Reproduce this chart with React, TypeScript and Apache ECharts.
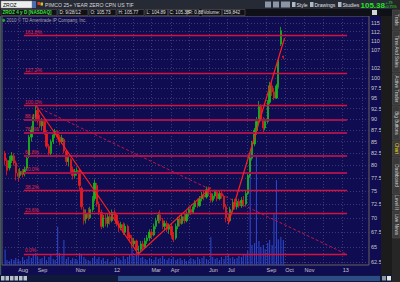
import React, { useEffect, useRef } from 'react';
import * as echarts from 'echarts';

// ---------- data ----------
const monthNames = ['Jan', 'Feb', 'Mar', 'Apr', 'May', 'Jun', 'Jul', 'Aug', 'Sep', 'Oct', 'Nov', 'Dec'];
const weekCount = 64; // two sessions per week shown, from the week of 2011-07-11

// [open, close, low, high]
const ohlc: number[][] = [
  [82.5, 81.0, 80.0, 83.0], [81.0, 79.0, 78.0, 81.5],
  [79.5, 81.0, 79.0, 82.0], [81.0, 82.0, 80.5, 82.8],
  [82.0, 80.5, 80.0, 82.5], [80.5, 78.5, 77.0, 81.0],
  [78.5, 77.8, 76.8, 79.2], [78.0, 78.8, 77.5, 79.5],
  [78.8, 78.2, 77.6, 79.3], [78.3, 79.2, 77.8, 79.8],
  [79.5, 81.5, 79.0, 82.0], [82.0, 86.0, 81.5, 86.5],
  [86.0, 87.5, 85.0, 88.5], [87.5, 90.5, 87.0, 91.2],
  [90.5, 92.0, 89.5, 93.21], [92.0, 90.0, 89.0, 92.5],
  [90.0, 88.5, 88.0, 91.0], [88.5, 89.5, 87.5, 90.3],
  [89.5, 87.0, 86.5, 90.0], [87.0, 84.0, 83.5, 87.5],
  [84.0, 82.5, 81.8, 84.5], [82.5, 85.0, 82.0, 85.5],
  [85.0, 86.5, 84.5, 87.0], [86.5, 87.3, 85.8, 87.8],
  [87.2, 86.0, 85.5, 87.5], [86.0, 85.0, 84.2, 86.5],
  [85.0, 85.8, 84.5, 86.5], [85.5, 83.0, 82.5, 85.8],
  [83.0, 80.8, 80.0, 83.2], [80.8, 81.5, 79.8, 82.0],
  [81.2, 79.2, 78.5, 81.5], [79.2, 78.0, 77.2, 79.8],
  [78.0, 78.8, 77.5, 79.3], [78.8, 79.0, 78.0, 79.6],
  [79.0, 76.0, 75.2, 79.3], [75.5, 72.0, 71.5, 75.8],
  [71.5, 69.5, 68.8, 72.0], [69.8, 70.8, 69.0, 71.5],
  [70.8, 70.0, 69.5, 71.8], [70.0, 71.5, 69.8, 72.0],
  [71.5, 73.5, 71.0, 74.0], [73.5, 76.5, 73.0, 77.2],
  [76.0, 72.5, 72.0, 76.5], [72.5, 71.0, 70.5, 73.0],
  [71.0, 68.5, 68.0, 71.5], [68.5, 70.0, 68.2, 70.5],
  [70.0, 69.0, 68.5, 70.8], [69.0, 70.2, 68.3, 70.8],
  [70.2, 69.5, 68.8, 71.0], [69.5, 71.0, 69.2, 71.5],
  [71.0, 70.5, 69.8, 71.5], [70.5, 69.0, 68.5, 70.8],
  [69.0, 68.2, 67.5, 69.5], [68.2, 68.8, 67.8, 69.3],
  [68.8, 67.5, 67.0, 69.2], [67.5, 68.5, 67.0, 69.0],
  [68.5, 67.0, 66.5, 68.8], [67.0, 66.5, 65.8, 67.5],
  [66.5, 65.5, 64.8, 67.0], [65.5, 66.0, 65.0, 66.5],
  [66.0, 64.5, 64.0, 66.2], [64.5, 64.6, 63.84, 65.2],
  [64.6, 65.5, 64.2, 66.0], [65.5, 65.0, 64.5, 66.0],
  [65.0, 66.0, 64.8, 66.5], [66.0, 66.5, 65.5, 67.0],
  [66.5, 67.5, 66.0, 68.0], [67.5, 67.0, 66.3, 68.0],
  [67.0, 68.5, 66.8, 69.0], [68.5, 69.5, 68.0, 70.0],
  [69.5, 70.5, 69.0, 71.0], [70.5, 69.5, 69.0, 71.4],
  [69.5, 68.5, 68.0, 70.0], [68.5, 69.0, 67.8, 69.5],
  [69.0, 68.0, 67.5, 69.5], [68.0, 68.5, 67.2, 69.0],
  [68.5, 67.0, 66.5, 69.0], [67.0, 66.2, 65.8, 67.5],
  [66.5, 68.5, 66.2, 69.0], [68.5, 69.8, 68.0, 70.2],
  [69.8, 69.0, 68.5, 70.5], [69.0, 70.2, 68.8, 70.8],
  [70.2, 69.5, 69.0, 70.8], [69.5, 70.8, 69.2, 71.2],
  [70.8, 71.5, 70.2, 72.0], [71.5, 71.0, 70.5, 72.0],
  [71.0, 72.0, 70.8, 72.5], [72.0, 72.8, 71.5, 73.2],
  [72.8, 72.2, 71.8, 73.5], [72.2, 73.5, 72.0, 74.0],
  [73.5, 74.2, 73.0, 74.8], [74.2, 73.8, 73.2, 75.0],
  [73.8, 75.2, 73.5, 75.8], [75.2, 74.5, 74.0, 75.8],
  [74.5, 73.2, 72.8, 75.0], [73.2, 74.0, 72.8, 74.5],
  [74.0, 74.8, 73.5, 75.2], [74.8, 73.5, 73.0, 75.0],
  [73.5, 74.5, 73.2, 75.0], [74.5, 74.0, 73.5, 75.2],
  [74.0, 72.0, 71.5, 74.3], [72.0, 70.0, 69.2, 72.5],
  [70.0, 69.5, 68.8, 70.8], [69.5, 71.5, 69.3, 72.0],
  [71.5, 72.8, 71.0, 73.5], [72.8, 72.0, 71.5, 73.5],
  [72.0, 73.0, 71.5, 73.5], [73.0, 72.2, 71.8, 73.5],
  [72.2, 73.2, 71.8, 73.8], [73.2, 72.5, 72.0, 74.0],
  [72.5, 74.5, 72.2, 75.0], [74.5, 78.0, 74.2, 78.5],
  [78.0, 81.5, 77.5, 82.0], [81.5, 84.5, 81.0, 85.2],
  [84.5, 87.5, 84.0, 88.0], [87.5, 89.5, 86.5, 90.5],
  [89.5, 93.0, 89.0, 94.3], [93.0, 90.0, 89.5, 93.5],
  [90.0, 88.0, 87.0, 90.5], [88.0, 89.5, 87.5, 90.2],
  [89.5, 94.0, 89.0, 94.5], [94.0, 98.0, 93.5, 99.0],
  [98.0, 96.5, 95.5, 99.0], [96.5, 95.0, 94.5, 97.5],
  [95.0, 98.0, 94.8, 98.5], [98.0, 104.5, 97.5, 105.5],
  [109.0, 112.8, 108.5, 113.9], [105.73, 105.38, 104.89, 105.77],
];

// volume, thousands of shares
const volumes: number[] = [
  100, 32, 25, 38, 32, 45, 38, 25, 51, 32, 38, 58, 45, 64, 77, 51,
  38, 45, 58, 32, 51, 64, 38, 32, 245, 77, 58, 160, 38, 51, 32, 45,
  38, 32, 77, 64, 51, 38, 32, 25, 45, 58, 38, 51, 32, 45, 25, 38,
  19, 32, 38, 51, 45, 32, 58, 38, 51, 64, 115, 58, 77, 64, 45, 51,
  38, 32, 45, 38, 32, 51, 38, 45, 58, 38, 32, 45, 38, 51, 32, 38,
  45, 32, 38, 25, 32, 45, 38, 32, 51, 38, 45, 58, 38, 32, 180, 51,
  38, 45, 32, 51, 38, 58, 64, 45, 51, 38, 45, 58, 51, 64, 64, 90,
  725, 128, 141, 706, 154, 115, 128, 102, 141, 160, 128, 334, 546, 166, 180, 160,
];

// price grid lines, and the tick labels shown (105 is hidden behind the last-price badge)
const yTicks = [62.5, 65, 67.5, 70, 72.5, 75, 77.5, 80, 82.5, 85, 87.5, 90, 92.5, 95, 97.5, 100, 102.5, 105, 107.5, 110, 112.5, 115];
const yLabels = [62.5, 65, 67.5, 70, 72.5, 75, 77.5, 80, 82.5, 85, 87.5, 90, 92.5, 95, 97.5, 100, 102.5, 107.5, 110, 112.5, 115];
const gridMonths = [
  '2011-08-01', '2011-09-01', '2011-10-01', '2011-11-01', '2011-12-01', '2012-01-01', '2012-02-01',
  '2012-03-01', '2012-04-01', '2012-05-01', '2012-06-01', '2012-07-01', '2012-08-01', '2012-09-01',
  '2012-10-01', '2012-11-01', '2012-12-01', '2013-01-01', '2013-02-01',
];
const labelMonths = [
  '2011-08-01', '2011-09-01', '2011-11-01', '2012-01-01', '2012-03-01', '2012-04-01',
  '2012-06-01', '2012-07-01', '2012-09-01', '2012-10-01', '2012-11-01', '2013-01-01',
];

const fibPercents = ['161.8%', '127.2%', '100.0%', '88.6%', '78.6%', '61.8%', '50.0%', '38.2%', '23.6%', '0.0%'];
const fibPrices = [111.36, 101.2, 93.21, 89.86, 86.93, 81.99, 78.53, 75.06, 70.77, 63.84];
const fibStart = '2011-08-10';
const fibEnd = '2013-01-08';

const trendStarts: [string, number][] = [['2011-08-29', 93.21], ['2012-02-09', 63.84], ['2012-07-02', 69.0]];
const trendEnds: [string, number][] = [['2012-02-09', 63.84], ['2012-06-04', 75.6], ['2012-09-30', 110.7]];
const dashedStart: [string, number] = ['2011-08-29', 93.0];
const dashedEnd: [string, number] = ['2013-01-05', 63.9];

const lastPrice = 105.38;

// ---------- helpers ----------
const ts = (s: string) => {
  const [y, m, d] = s.split('-').map(Number);
  return new Date(y, m - 1, d).getTime();
};

function buildDates(): number[] {
  const out: number[] = [];
  for (let w = 0; w < weekCount; w++) {
    out.push(new Date(2011, 6, 11 + 7 * w).getTime());
    out.push(new Date(2011, 6, 11 + 7 * w + (w === weekCount - 1 ? 4 : 3)).getTime());
  }
  return out;
}

const FONT = 'Liberation Sans';

function headerGraphics(): any[] {
  const g: any[] = [];
  const rect = (x: number, y: number, w: number, h: number, fill: string, stroke?: string) =>
    g.push({ type: 'rect', z: 100, shape: { x, y, width: w, height: h }, style: { fill, stroke: stroke || null, lineWidth: 0.5 } });
  const text = (x: number, y: number, t: string, size: number, fill: string, extra: any = {}) =>
    g.push({ type: 'text', z: 101, x, y, style: { text: t, fontSize: size, fill, fontFamily: FONT, verticalAlign: 'middle', ...extra } });

  // top toolbar
  rect(0, 0, 400, 9, '#262a35');
  rect(1, 1, 31, 7, '#eeeeee', '#888');
  text(3, 4.7, 'ZROZ', 5, '#000');
  rect(32, 1, 4, 7, '#4d6cad');
  rect(37.5, 2, 2.5, 3, '#e03a2a');
  rect(40.5, 2.5, 2.5, 3, '#e0c030');
  text(45, 4.7, 'PIMCO 25+ YEAR ZERO CPN US TIF', 5.2, '#d8d8d8');
  rect(265, 1.5, 6, 6, '#8a96a8');
  rect(273, 1.5, 6, 6, '#8a96a8');
  rect(281, 1.5, 9, 6, '#8a96a8');
  rect(292, 2, 3.5, 5, '#b0b8c0');
  text(296.5, 4.7, 'Style', 5, '#e0e0e0');
  rect(310, 2, 3.5, 5, '#b0b8c0');
  text(314.5, 4.7, 'Drawings', 5, '#e0e0e0');
  rect(338, 2, 3.5, 5, '#b0b8c0');
  text(342.5, 4.7, 'Studies', 5, '#e0e0e0');
  text(360.5, 5, '105.38', 8, '#28e028', { fontWeight: 'bold' });
  text(385.5, 2.6, '+.79', 3.6, '#28e028');
  text(384.5, 6.6, '+0.75%', 3.6, '#28e028');

  // info row
  rect(0, 9, 400, 7, '#101019');
  const boxes: [number, number, string, string][] = [
    [1, 56, 'ZROZ 4 y D [NASDAQ]', '#3ee03e'],
    [58, 30, 'D: 9/28/12', '#e0e0e0'],
    [89, 27, 'O: 105.73', '#e0e0e0'],
    [117, 27, 'H: 105.77', '#e0e0e0'],
    [145, 23, 'L: 104.89', '#e0e0e0'],
    [168, 19, 'C: 105.38', '#e0e0e0'],
    [187, 12, 'R: 0.88', '#e0e0e0'],
    [202, 20, 'Volume:', '#e0e0e0'],
    [222, 23, '159,842', '#e0e0e0'],
  ];
  boxes.forEach(([x, w, t, c]) => {
    rect(x, 9.5, w, 6, 'rgba(0,0,0,0)', '#6a6a6a');
    text(x + 1.5, 12.7, t, 4.6, c, c === '#3ee03e' ? { fontWeight: 'bold' } : {});
  });
  rect(372, 10, 5, 5, '#d0d4d8');

  // copyright line inside plot
  g.push({ type: 'circle', z: 101, shape: { cx: 3.6, cy: 20.3, r: 1.6 }, style: { fill: '#2aa02a' } });
  text(6.5, 20.4, '2010 \u00a9 TD Ameritrade IP Company, Inc.', 4.5, '#a8a8a8');

  // right side panel with vertical tabs
  rect(381, 16, 11, 259, '#1b1b1b');
  rect(392, 0, 8, 282, '#262626');
  const tabs: [number, number, string][] = [
    [10, 30, 'Trade'], [31, 72, 'Time And Sales'], [73, 105, 'Active Trader'], [106, 140, 'Big Buttons'],
    [141, 156, 'Chart'], [157, 194, 'Dashboard'], [195, 210, 'Level II'], [211, 238, 'Live News'],
  ];
  tabs.forEach(([a, b, t]) => {
    rect(392.5, a, 7, b - a, '#3a3a3a', '#555');
    g.push({
      type: 'text', z: 102, x: 396, y: (a + b) / 2, rotation: -Math.PI / 2,
      style: { text: t, fontSize: 4.6, fill: t === 'Chart' ? '#f2d21c' : '#d8d8d8', fontFamily: FONT, align: 'center', verticalAlign: 'middle' },
    });
  });

  // bottom scroll bar
  rect(0, 275, 392, 7, '#0f1a3b');
  [1, 5.5, 10, 14.5, 19, 23.5].forEach((x) => rect(x, 276, 3.5, 4.5, '#b8c0ca'));
  rect(118, 276, 262, 5, '#2b4c87');
  rect(382, 276, 4, 4.5, '#8d96a0');
  rect(387, 276, 4, 4.5, '#e6e6e6');
  // left border strip
  rect(0, 16, 1.2, 259, '#3c5a5a');
  return g;
}

export default function App() {
  const ref = useRef<HTMLDivElement>(null);

  useEffect(() => {
    if (!ref.current) return;
    const chart = echarts.init(ref.current, undefined, { renderer: 'svg' });
    const dates = buildDates();
    const candleData = dates.map((d, i) => [d, ...ohlc[i]]);
    const volData = dates.map((d, i) => [d, volumes[i]]);

    const heavy = new Set(['88.6%', '78.6%', '61.8%', '50.0%']);
    const fibLines: any[] = [];
    fibPrices.forEach((p, i) => {
      const isHeavy = heavy.has(fibPercents[i]);
      const lineStyle = { color: isHeavy ? '#a3124f' : '#d3123f', width: isHeavy ? 2.2 : 1.3, type: 'solid' };
      const lbl = { show: true, fontSize: 5, color: '#e0284a', fontFamily: FONT, distance: 1 };
      fibLines.push([
        { coord: [ts(fibStart), p], lineStyle, label: { ...lbl, position: 'insideStartTop', formatter: fibPercents[i] } },
        { coord: [ts(fibEnd), p] },
      ]);
      fibLines.push([
        { coord: [ts(fibStart), p], lineStyle: { opacity: 0, width: 0 }, label: { ...lbl, position: 'insideEndTop', formatter: '$' + p } },
        { coord: [ts(fibEnd), p] },
      ]);
    });

    const trendData: any[] = trendStarts.map((s, i) => [
      { coord: [ts(s[0]), s[1]], lineStyle: { color: '#ff1e1e', width: 1.2, type: 'solid' } },
      { coord: [ts(trendEnds[i][0]), trendEnds[i][1]] },
    ]);
    trendData.push([
      { coord: [ts(dashedStart[0]), dashedStart[1]], lineStyle: { color: '#c4124a', width: 1, type: [3, 2] } },
      { coord: [ts(dashedEnd[0]), dashedEnd[1]] },
    ]);
    trendData.push({
      yAxis: lastPrice,
      lineStyle: { opacity: 0, width: 0 },
      label: {
        show: true, position: 'end', formatter: String(lastPrice), color: '#ffffff', backgroundColor: '#e31212',
        borderRadius: 2, padding: [1, 2, 1, 2], fontSize: 5.5, fontFamily: FONT, distance: 1,
      },
    });

    chart.setOption({
      animation: false,
      backgroundColor: '#100c52',
      textStyle: { fontFamily: FONT },
      grid: { left: 2, right: 31, top: 16, bottom: 17, show: true, backgroundColor: '#100c52', borderColor: '#6b6259', borderWidth: 1 },
      xAxis: {
        type: 'value',
        min: ts('2011-07-06'),
        max: ts('2013-02-12'),
        axisLine: { show: false },
        axisTick: { show: false, customValues: gridMonths.map(ts) },
        splitLine: { show: true, lineStyle: { color: '#45457f', width: 0.8, type: [1, 2] } },
        axisLabel: {
          customValues: labelMonths.map(ts),
          formatter: (v: number) => {
            const d = new Date(v);
            return d.getMonth() === 0 ? String(d.getFullYear() % 100) : monthNames[d.getMonth()];
          },
          color: '#c8c8c8', fontSize: 5.5, align: 'left', margin: 2, fontFamily: FONT,
        },
      },
      yAxis: [
        {
          type: 'log', logBase: 10, min: 62.07, max: 117.1, position: 'right',
          axisLine: { show: false },
          axisTick: { show: false, customValues: yTicks },
          splitLine: { show: true, lineStyle: { color: '#45457f', width: 0.8, type: [1, 2] } },
          axisLabel: {
            customValues: yLabels, color: '#c8c8c8', fontSize: 5.5, margin: 2, fontFamily: FONT,
            formatter: (v: number) => String(Math.round(v * 10) / 10),
          },
        },
        { type: 'value', min: 0, max: 1600, show: false, splitLine: { show: false } },
      ],
      series: [
        {
          type: 'bar', name: 'Volume', yAxisIndex: 1, data: volData, barWidth: 1.1, z: 1, silent: true,
          itemStyle: { color: '#2d4bd3', opacity: 0.9 },
        },
        {
          type: 'line', name: 'Fib', yAxisIndex: 0, data: [], z: 2, silent: true,
          markLine: { silent: true, symbol: ['none', 'none'], label: { show: false }, data: fibLines },
        },
        {
          type: 'candlestick', name: 'ZROZ', yAxisIndex: 0, data: candleData, z: 3, barWidth: 1.8,
          encode: { x: 0, y: [1, 2, 3, 4] },
          itemStyle: { color: '#1cb41c', color0: '#e81c1c', borderColor: '#1cb41c', borderColor0: '#e81c1c', borderWidth: 0.8 },
          markLine: { silent: true, symbol: ['none', 'none'], label: { show: false }, data: trendData },
        },
      ],
      graphic: { elements: headerGraphics() },
    });
    return () => chart.dispose();
  }, []);

  return <div ref={ref} style={{ position: 'fixed', left: 0, top: 0, width: 400, height: 282 }} />;
}
